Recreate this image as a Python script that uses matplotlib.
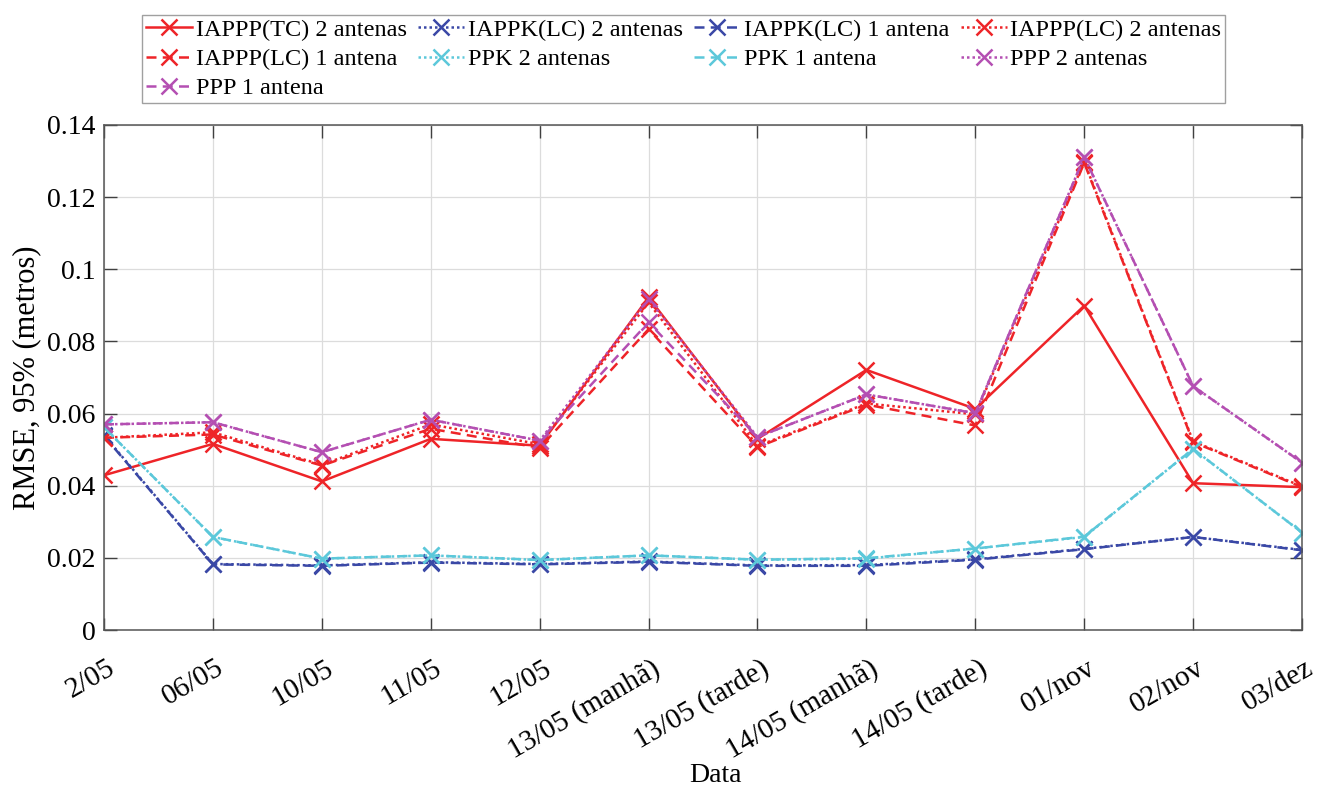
import matplotlib
matplotlib.use('Agg')
import matplotlib.pyplot as plt
import numpy as np
from matplotlib.ticker import FormatStrFormatter
from matplotlib.transforms import ScaledTranslation

plt.rcParams['font.family'] = ['Liberation Serif', 'DejaVu Serif']

datas = ['2/05', '06/05', '10/05', '11/05', '12/05', '13/05 (manhã)', '13/05 (tarde)',
         '14/05 (manhã)', '14/05 (tarde)', '01/nov', '02/nov', '03/dez']

iappp_tc_2 = [0.0429, 0.0516, 0.0412, 0.0530, 0.0511, 0.0922, 0.0530, 0.0721, 0.0613, 0.0899, 0.0407, 0.0396]
iappk_lc_2 = [0.0540, 0.0183, 0.0179, 0.0188, 0.0183, 0.0190, 0.0179, 0.0180, 0.0196, 0.0225, 0.0258, 0.0222]
iappk_lc_1 = [0.0538, 0.0182, 0.0178, 0.0187, 0.0182, 0.0189, 0.0178, 0.0178, 0.0195, 0.0224, 0.0258, 0.0221]
iappp_lc_2 = [0.0533, 0.0548, 0.0458, 0.0570, 0.0515, 0.0908, 0.0510, 0.0628, 0.0598, 0.1298, 0.0523, 0.0398]
iappp_lc_1 = [0.0533, 0.0542, 0.0456, 0.0558, 0.0505, 0.0834, 0.0507, 0.0625, 0.0567, 0.1295, 0.0521, 0.0396]
ppk_2 = [0.0562, 0.0258, 0.0198, 0.0207, 0.0194, 0.0207, 0.0195, 0.0198, 0.0226, 0.0258, 0.0502, 0.0270]
ppk_1 = [0.0562, 0.0258, 0.0198, 0.0207, 0.0194, 0.0207, 0.0195, 0.0199, 0.0226, 0.0259, 0.0502, 0.0270]
ppp_2 = [0.0570, 0.0576, 0.0493, 0.0583, 0.0525, 0.0917, 0.0535, 0.0653, 0.0601, 0.1311, 0.0676, 0.0464]
ppp_1 = [0.0570, 0.0576, 0.0493, 0.0583, 0.0525, 0.0853, 0.0535, 0.0653, 0.0601, 0.1311, 0.0676, 0.0464]

vermelho = '#EE2428'
azul = '#3A48A6'
ciano = '#5CC8DA'
roxo = '#B44FB2'
pontilhado = (0, (1, 1.2))
tracejado = (0, (4, 2.5))

series = [
    ('IAPPP(TC) 2 antenas', iappp_tc_2, vermelho, '-'),
    ('IAPPK(LC) 2 antenas', iappk_lc_2, azul, pontilhado),
    ('IAPPK(LC) 1 antena', iappk_lc_1, azul, tracejado),
    ('IAPPP(LC) 2 antenas', iappp_lc_2, vermelho, pontilhado),
    ('IAPPP(LC) 1 antena', iappp_lc_1, vermelho, tracejado),
    ('PPK 2 antenas', ppk_2, ciano, pontilhado),
    ('PPK 1 antena', ppk_1, ciano, tracejado),
    ('PPP 2 antenas', ppp_2, roxo, pontilhado),
    ('PPP 1 antena', ppp_1, roxo, tracejado),
]

fig = plt.figure(figsize=(13.2, 7.95), dpi=100)
ax = fig.add_axes([0.0788, 0.2075, 0.9076, 0.6353])

x = np.arange(len(datas))
linhas = []
for nome, y, cor, estilo in series:
    l, = ax.plot(x, y, color=cor, linestyle=estilo, linewidth=1.8,
                 marker='x', markersize=11, markeredgewidth=1.8, label=nome)
    linhas.append(l)

ax.set_xlim(0, len(datas) - 1)
ax.set_ylim(0, 0.14)
ax.set_yticks(np.arange(0, 0.141, 0.02))
ax.yaxis.set_major_formatter(FormatStrFormatter('%g'))
ax.set_xticks(x)
ax.set_xticklabels(datas, rotation=30, ha='right', va='top', rotation_mode='anchor')

ax.grid(True, color='#DCDCDC', linewidth=0.9)
ax.set_axisbelow(True)
ax.tick_params(direction='in', length=9, width=1, colors='#404040', labelcolor='black',
               labelsize=20, top=True, right=True, pad=6)
ax.tick_params(axis='x', labelsize=21, pad=18)
# desloca os rótulos girados um pouco para a direita (depois do tick_params)
for lab in ax.get_xticklabels():
    lab.set_transform(lab.get_transform() + ScaledTranslation(2 / 72, 0, fig.dpi_scale_trans))
for s in ax.spines.values():
    s.set_color('#555555')
    s.set_linewidth(1.1)

ax.set_xlabel('Data', fontsize=20)
ax.xaxis.set_label_coords(0.51, -0.263)
ax.set_ylabel('RMSE, 95% (metros)', fontsize=22, labelpad=4)

# ordem por colunas para reproduzir a ordem por linhas do MATLAB
ordem = [0, 4, 8, 1, 5, 2, 6, 3, 7]
leg = fig.legend([linhas[i] for i in ordem], [series[i][0] for i in ordem],
                 ncol=4, loc='lower left', mode='expand',
                 bbox_to_anchor=(0.1076, 0.8704, 0.8205, 0.1145),
                 fontsize=17.5, frameon=True, fancybox=False, edgecolor='#888888',
                 handlelength=1.9, handletextpad=0.15, columnspacing=0.5,
                 labelspacing=0.3, borderpad=0.15, borderaxespad=0)
leg.get_frame().set_linewidth(1.0)

fig.savefig('out.png', dpi=100)
